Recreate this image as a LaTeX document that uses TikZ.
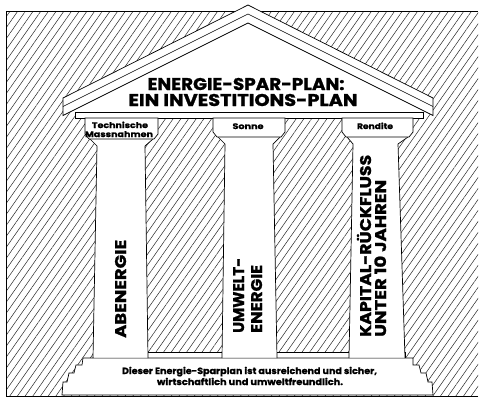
\documentclass[tikz,border=0pt]{standalone}
\usepackage{graphicx}
\usepackage{fontspec}
\setmainfont{Poppins}
\newfontfamily\heavyfont{Poppins}[BoldFeatures={FakeBold=1.2}]
\newcommand\fitline[3]{\resizebox{#1}{\height}{\heavyfont\bfseries\fontsize{#2}{#2}\selectfont #3}}
\usepackage{tikz}
\usetikzlibrary{patterns.meta}

\begin{document}
\begin{tikzpicture}[x=1pt,y=-1pt,
    part/.style={draw=black,fill=white,line width=0.7pt,line join=miter},
    hatch/.style={pattern={Lines[angle=55,distance=6.3pt,line width=0.5pt]},pattern color=black!85},
    txt/.style={inner sep=0pt,anchor=base},
    coltxt/.style={inner sep=0pt,anchor=base west,rotate=90}]
    \useasboundingbox (0,0) rectangle (481,399);
    \fill[hatch] (6,11) rectangle (478,396);
    \draw[line width=0.7pt] (6,396) -- (6,11) -- (478,11);
    \draw[line width=0.7pt] (6,396) -- (478,396);
    % roof
    \fill[white] (70,112) -- (248,23) -- (426,112) -- cycle;
    \filldraw[part] (63,98) -- (248,5) -- (433,98) -- (433,115.5) -- (248,23) -- (63,115.5) -- cycle;
    \draw[line width=0.6pt] (63,106.5) -- (248,14) -- (433,106.5);
    \filldraw[part] (75,112) rectangle (423,118);
    % base
    \filldraw[part] (93,352) rectangle (405,358);
    \filldraw[part] (83,358) -- (82,365) -- (76,365) -- (74,373) -- (69,373) -- (67,382) -- (63,382) -- (62,395)
        -- (433,395) -- (432,382) -- (428,382) -- (426,373) -- (421,373) -- (419,365) -- (413,365) -- (413,358) -- cycle;
    % columns
    \foreach \cl/\cr/\cb/\pl/\pr/\bl/\br in {85/158/139/97/145/93/148, 213/285/137/225/273/222/277, 342/413/137/353/398/349/405}{
        \fill[white] (\cl+5,\cb) -- (\pl,\cb+7) -- (\bl,357.6) -- (\br,357.6) -- (\pr,\cb+7) -- (\cr-5,\cb) -- cycle;
        \draw[line width=0.7pt] (\cl+5,\cb) -- (\pl,\cb+7) -- (\bl,358);
        \draw[line width=0.7pt] (\cr-5,\cb) -- (\pr,\cb+7) -- (\br,358);
        \filldraw[part] (\cl,118) -- (\cr,118) -- (\cr,\cb-5) -- (\cr-4,\cb) -- (\cl+4,\cb) -- (\cl,\cb-5) -- cycle;
    }
    \node[txt] (title1) at (246,90) {\fitline{197pt}{17}{ENERGIE-SPAR-PLAN:}};
    \node[txt] (title2) at (243,106) {\fitline{229pt}{17}{EIN INVESTITIONS-PLAN}};
    \node[txt] (techcap1) at (120,128) {\fitline{56pt}{8}{Technische}};
    \node[txt] (techcap2) at (119,137) {\fitline{68pt}{8}{Massnahmen}};
    \node[txt] (sonnecap) at (248,129) {\fitline{31pt}{8}{Sonne}};
    \node[txt] (renditecap) at (375,129) {\fitline{36pt}{8}{Rendite}};
    \node[coltxt] (abenergie) at (126,338) {\fitline{98pt}{15.5}{ABENERGIE}};
    \node[coltxt] (umwelt1) at (244,333) {\fitline{75pt}{15.5}{UMWELT-}};
    \node[coltxt] (umwelt2) at (262,333) {\fitline{68pt}{15.5}{ENERGIE}};
    \node[coltxt] (kapital1) at (371,337) {\fitline{182pt}{15.5}{KAPITAL-RÜCKFLUSS}};
    \node[coltxt] (kapital2) at (386,337) {\fitline{157pt}{15.5}{UNTER 10 JAHREN}};
    \node[txt] (basis1) at (249.5,374) {\fitline{255pt}{9}{Dieser Energie-Sparplan ist ausreichend und sicher,}};
    \node[txt] (basis2) at (250,385) {\fitline{186pt}{9}{wirtschaftlich und umweltfreundlich.}};
\end{tikzpicture}
\end{document}
